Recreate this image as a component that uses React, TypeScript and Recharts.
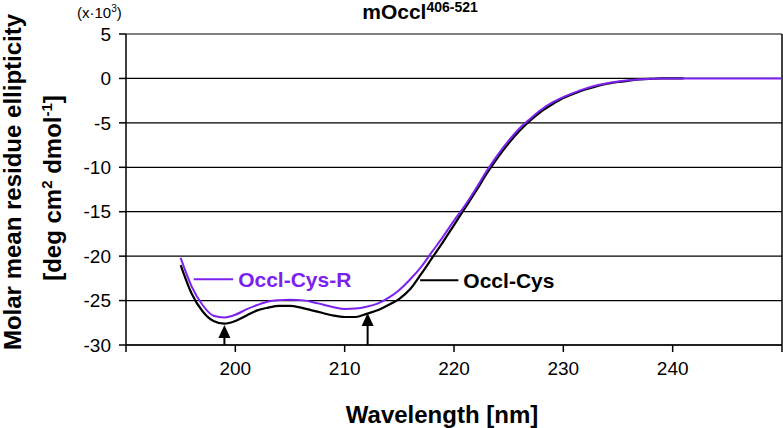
import React from "react";
import {
  LineChart, Line, XAxis, YAxis, CartesianGrid, ReferenceLine, Customized,
} from "recharts";

const FONT = "'Liberation Sans', Arial, Helvetica, sans-serif";
const PURPLE = "#7B22F0";

// wavelength grid (nm)
const wavelengths = [
  195, 196, 197, 198, 199, 200, 201, 202, 203, 204, 205, 206, 207, 208, 209,
  210, 211, 212, 213, 214, 215, 216, 217, 218, 219, 220, 221, 222, 223, 224,
  225, 226, 227, 228, 229, 230, 231, 232, 233, 234, 235, 236, 237, 238, 239,
  240, 241, 242, 243, 244, 245, 246, 247, 248, 249, 250,
];

// Occl-Cys (x10^3), ends at 241 nm
const occlCys = [
  -21.0, -24.2, -26.2, -27.3, -27.6, -27.3, -26.7, -26.1, -25.8, -25.6, -25.6,
  -25.8, -26.1, -26.4, -26.7, -26.85, -26.85, -26.5, -26.1, -25.5, -24.8, -23.7,
  -22.0, -20.2, -18.4, -16.5, -14.6, -12.7, -10.7, -8.9, -7.3, -5.9, -4.7, -3.7,
  -2.9, -2.2, -1.7, -1.25, -0.9, -0.6, -0.4, -0.25, -0.12, -0.05, 0, 0, 0,
];

// Occl-Cys-R (x10^3)
const occlCysR = [
  -20.2, -23.4, -25.5, -26.7, -26.9, -26.6, -26.0, -25.5, -25.1, -24.95, -24.9,
  -24.95, -25.15, -25.45, -25.75, -25.95, -25.9, -25.7, -25.35, -24.7, -23.8,
  -22.6, -21.2, -19.5, -17.8, -16.0, -14.3, -12.4, -10.4, -8.6, -7.0, -5.6, -4.5,
  -3.5, -2.7, -2.1, -1.6, -1.15, -0.8, -0.55, -0.35, -0.2, -0.1, -0.05, 0, 0, 0,
  0, 0, 0, 0, 0, 0, 0, 0, 0,
];

const xTicks = [190, 200, 210, 220, 230, 240, 250];
const yTicks = [-30, -25, -20, -15, -10, -5, 0, 5];

// arrows marking the minima: [wavelength, tip value]
const arrows = [
  [199, -27.75],
  [212.1, -26.4],
];

// in-plot labels: [x start, x end, value, text, colour]
const curveLabels = [
  [196.2, 199.8, -22.6, "Occl-Cys-R", PURPLE],
  [216.9, 220.4, -22.7, "Occl-Cys", "#000"],
] as const;

const data = wavelengths.map((wl, i) => ({
  wl,
  cys: occlCys[i],
  cysR: occlCysR[i],
}));

const Arrow = (props: any) => {
  const { x1, y1, y2 } = props;
  const top = Math.min(y1, y2);
  const bottom = Math.max(y1, y2);
  return (
    <g>
      <line x1={x1} y1={bottom} x2={x1} y2={top + 10} stroke="#000" strokeWidth={2} />
      <polygon points={`${x1 - 6},${top + 13} ${x1 + 6},${top + 13} ${x1},${top}`} fill="#000" />
    </g>
  );
};

const labelShape = (text: string, color: string) => (props: any) => {
  const { x1, y1, x2 } = props;
  return (
    <g>
      <line x1={x1} y1={y1} x2={x2} y2={y1} stroke={color} strokeWidth={2} />
      <text x={x2 + 5} y={y1 + 7.5} fill={color} fontSize={21} fontWeight="bold" fontFamily={FONT}>
        {text}
      </text>
    </g>
  );
};

const Texts = () => (
  <g fontFamily={FONT} fill="#000">
    <text x={420} y={19} textAnchor="middle" fontSize={21} fontWeight="bold">
      mOccl<tspan dy={-7} fontSize={14}>406-521</tspan>
    </text>
    <text x={77} y={18} fontSize={15}>
      (x·10<tspan dy={-6} fontSize={10}>3</tspan><tspan dy={6}>)</tspan>
    </text>
    <text x={442} y={423} textAnchor="middle" fontSize={24} fontWeight="bold">
      Wavelength [nm]
    </text>
    <text x={21} y={182} transform="rotate(-90, 21, 182)" textAnchor="middle" fontSize={24} fontWeight="bold">
      Molar mean residue ellipticity
    </text>
    <text x={61} y={188} transform="rotate(-90, 61, 188)" textAnchor="middle" fontSize={24} fontWeight="bold">
      [deg cm<tspan dy={-9} fontSize={15}>2</tspan><tspan dy={9}> dmol</tspan>
      <tspan dy={-9} fontSize={15}>-1</tspan><tspan dy={9}>]</tspan>
    </text>
  </g>
);

export default function App() {
  return (
    <div style={{ position: "absolute", left: 0, top: 0, background: "#fff" }}>
      <LineChart width={783} height={428} data={data} margin={{ top: 34, right: 1, left: 0, bottom: 0 }}>
        <CartesianGrid vertical={false} stroke="#000" strokeWidth={1.2} />
        <XAxis
          dataKey="wl"
          type="number"
          domain={[190, 250]}
          ticks={xTicks}
          height={83}
          tickSize={7}
          tickMargin={10}
          tickFormatter={(v) => (v === 190 || v === 250 ? "" : String(v))}
          tick={{ fill: "#000", fontSize: 19, fontFamily: FONT }}
          stroke="#000"
          strokeWidth={1.5}
        />
        <YAxis
          type="number"
          domain={[-30, 5]}
          ticks={yTicks}
          width={126}
          tickSize={7}
          tickMargin={8}
          tick={{ fill: "#000", fontSize: 19, fontFamily: FONT }}
          stroke="#000"
          strokeWidth={1.5}
        />
        <ReferenceLine x={250} stroke="#000" strokeWidth={1.5} />
        <Line type="monotone" dataKey="cys" stroke="#000" strokeWidth={2.2} dot={false} isAnimationActive={false} />
        <Line type="monotone" dataKey="cysR" stroke={PURPLE} strokeWidth={2} dot={false} isAnimationActive={false} />
        {arrows.map(([wl, v]) => (
          <ReferenceLine
            key={wl}
            segment={[{ x: wl, y: -30 }, { x: wl, y: v }]}
            shape={Arrow}
          />
        ))}
        {curveLabels.map(([a, b, v, text, color]) => (
          <ReferenceLine
            key={text}
            segment={[{ x: a, y: v }, { x: b, y: v }]}
            shape={labelShape(text, color)}
          />
        ))}
        <Customized component={<Texts />} />
      </LineChart>
    </div>
  );
}
